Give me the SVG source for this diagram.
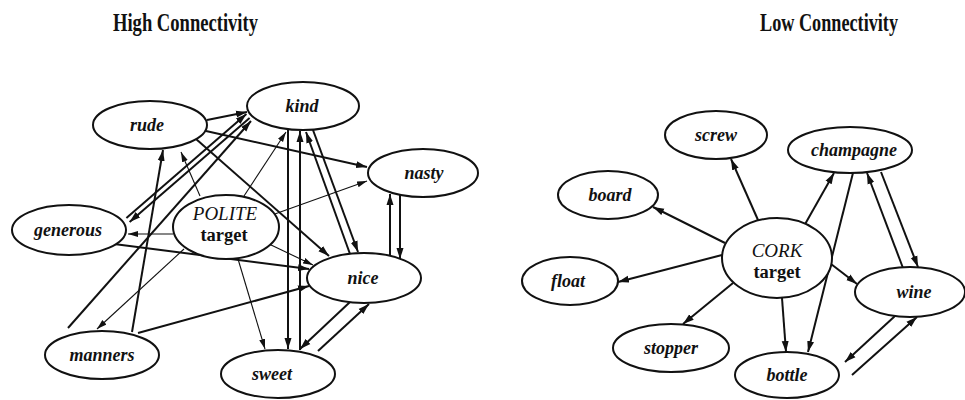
<svg xmlns="http://www.w3.org/2000/svg" width="965" height="400" viewBox="0 0 965 400">
<style>
.title{font-family:"Liberation Serif","Times New Roman",serif;font-weight:bold;font-size:25px;fill:#111}
.node ellipse{fill:#fff;stroke:#111;stroke-width:2}
.lbl{font-family:"Liberation Serif","Times New Roman",serif;font-weight:bold;font-style:italic;font-size:18px;text-anchor:middle;fill:#111}
.tname{font-family:"Liberation Serif","Times New Roman",serif;font-style:italic;font-size:19px;text-anchor:middle;fill:#111}
.tsub{font-family:"Liberation Serif","Times New Roman",serif;font-weight:bold;font-size:18.5px;text-anchor:middle;fill:#111}
.e{stroke:#111;stroke-width:2;fill:none;marker-end:url(#ah)}
.t{stroke:#111;stroke-width:1.1;fill:none;marker-end:url(#aht)}
</style>
<defs>
<marker id="ah" markerUnits="userSpaceOnUse" markerWidth="12" markerHeight="8" refX="11" refY="4" orient="auto"><path d="M0,0.5 L11,4 L0,7.5 z" fill="#111"/></marker>
<marker id="aht" markerUnits="userSpaceOnUse" markerWidth="11" markerHeight="7" refX="10" refY="3.5" orient="auto"><path d="M0,0.5 L10,3.5 L0,6.5 z" fill="#111"/></marker>
</defs>
<rect width="965" height="400" fill="#fff"/>
<text class="title" x="113" y="31" textLength="145" lengthAdjust="spacingAndGlyphs">High Connectivity</text>
<text class="title" x="760" y="31" textLength="138" lengthAdjust="spacingAndGlyphs">Low Connectivity</text>

<g id="connectors">
<!-- high connectivity -->
<line class="e" x1="207" y1="120" x2="247" y2="112"/>
<line class="e" x1="206" y1="131" x2="367" y2="167"/>
<line class="e" x1="196" y1="139" x2="329" y2="256"/>
<line class="e" x1="132" y1="332" x2="163" y2="150"/>
<line class="t" x1="200" y1="196" x2="181" y2="152"/>
<line class="e" x1="68" y1="328" x2="251" y2="121"/>
<line class="e" x1="126.4" y1="218.1" x2="246.4" y2="114.1"/>
<line class="e" x1="249.6" y1="117.9" x2="129.6" y2="221.9"/>
<line class="t" x1="173" y1="234" x2="128" y2="234"/>
<line class="e" x1="114" y1="244" x2="309" y2="269"/>
<line class="e" x1="138" y1="333" x2="309" y2="286"/>
<line class="t" x1="184" y1="249" x2="97" y2="329"/>
<line class="t" x1="238" y1="259" x2="265" y2="349"/>
<line class="t" x1="244" y1="196" x2="286" y2="132"/>
<line class="t" x1="272" y1="215" x2="367" y2="181"/>
<line class="t" x1="269" y1="244" x2="313" y2="265"/>
<line class="e" x1="288" y1="129" x2="288" y2="349"/>
<line class="e" x1="300" y1="350" x2="300" y2="131"/>
<line class="e" x1="350" y1="254" x2="306" y2="132"/>
<line class="e" x1="313" y1="130" x2="358" y2="252"/>
<line class="e" x1="390" y1="255" x2="390" y2="194"/>
<line class="e" x1="400" y1="195" x2="400" y2="259"/>
<line class="e" x1="350" y1="302" x2="300" y2="349"/>
<line class="e" x1="318" y1="351" x2="369" y2="304"/>
<!-- low connectivity -->
<line class="e" x1="758" y1="220" x2="731" y2="159"/>
<line class="e" x1="725" y1="243" x2="653" y2="207"/>
<line class="e" x1="722" y1="255" x2="618" y2="282"/>
<line class="e" x1="733" y1="283" x2="683" y2="324"/>
<line class="e" x1="782" y1="298" x2="786" y2="352"/>
<line class="e" x1="804" y1="226" x2="834" y2="173"/>
<line class="e" x1="853" y1="173" x2="808" y2="352"/>
<line class="e" x1="903" y1="268" x2="867" y2="173"/>
<line class="e" x1="881" y1="172" x2="918" y2="267"/>
<line class="e" x1="831" y1="264" x2="857" y2="284"/>
<line class="e" x1="895" y1="316" x2="845" y2="362"/>
<line class="e" x1="852" y1="375" x2="917" y2="317"/>
</g>

<g id="rude" class="node"><ellipse cx="150" cy="125" rx="57" ry="24"/><text class="lbl" x="147" y="131">rude</text></g>
<g id="kind" class="node"><ellipse cx="303" cy="106" rx="56" ry="24"/><text class="lbl" x="302" y="112">kind</text></g>
<g id="nasty" class="node"><ellipse cx="423" cy="173" rx="55" ry="24"/><text class="lbl" x="424" y="179">nasty</text></g>
<g id="generous" class="node"><ellipse cx="69" cy="230" rx="57" ry="25"/><text class="lbl" x="68" y="236">generous</text></g>
<g id="polite" class="node"><ellipse cx="226" cy="227" rx="53" ry="32"/><text class="tname" x="225" y="220">POLITE</text><text class="tsub" x="224" y="241">target</text></g>
<g id="nice" class="node"><ellipse cx="364" cy="278" rx="57" ry="25"/><text class="lbl" x="363" y="284">nice</text></g>
<g id="manners" class="node"><ellipse cx="102" cy="355" rx="57" ry="24"/><text class="lbl" x="102" y="361">manners</text></g>
<g id="sweet" class="node"><ellipse cx="278" cy="374" rx="57" ry="24"/><text class="lbl" x="272" y="380">sweet</text></g>

<g id="screw" class="node"><ellipse cx="716" cy="135" rx="51" ry="24"/><text class="lbl" x="716" y="141">screw</text></g>
<g id="board" class="node"><ellipse cx="608" cy="195" rx="50" ry="24"/><text class="lbl" x="610" y="201">board</text></g>
<g id="float" class="node"><ellipse cx="570" cy="281" rx="48" ry="24"/><text class="lbl" x="568" y="287">float</text></g>
<g id="cork" class="node"><ellipse cx="777" cy="258" rx="55" ry="40"/><text class="tname" x="777" y="257">CORK</text><text class="tsub" x="777" y="278">target</text></g>
<g id="champagne" class="node"><ellipse cx="850" cy="150" rx="62" ry="23"/><text class="lbl" x="854" y="156">champagne</text></g>
<g id="wine" class="node"><ellipse cx="910" cy="292" rx="55" ry="25"/><text class="lbl" x="914" y="298">wine</text></g>
<g id="stopper" class="node"><ellipse cx="671" cy="348" rx="58" ry="24"/><text class="lbl" x="671" y="354">stopper</text></g>
<g id="bottle" class="node"><ellipse cx="787" cy="375" rx="52" ry="23"/><text class="lbl" x="787" y="381">bottle</text></g>
</svg>
